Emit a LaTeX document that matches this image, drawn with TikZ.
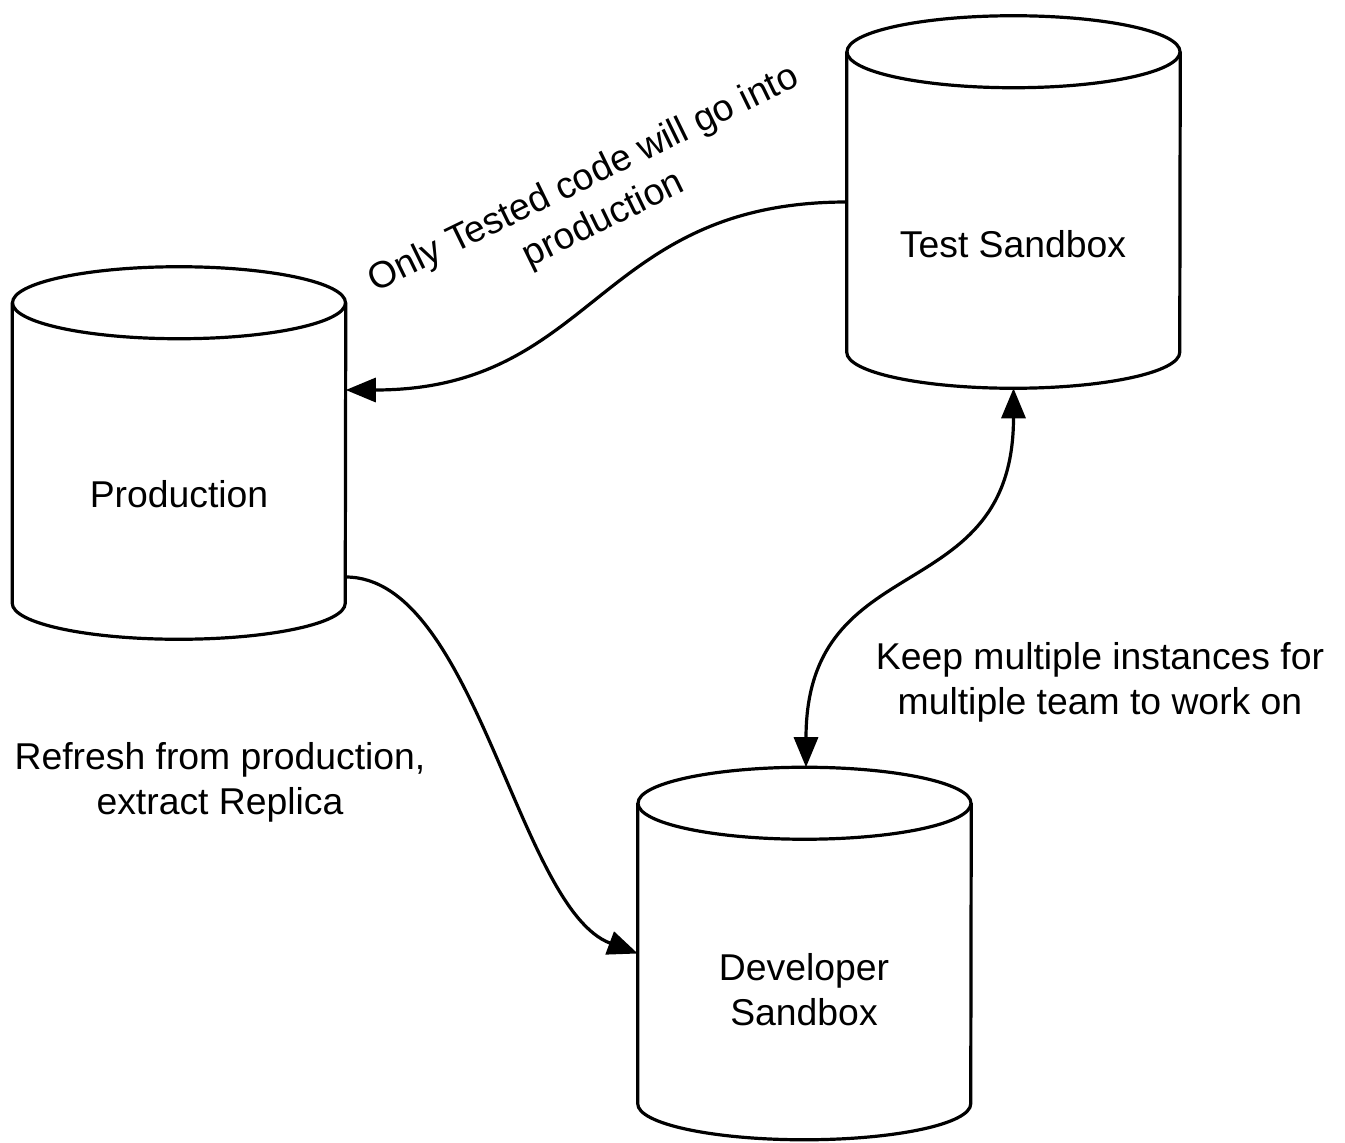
\documentclass[tikz,border=0pt]{standalone}
\usepackage{fontspec}
\setmainfont{Liberation Sans}
\usetikzlibrary{arrows.meta,calc}
\newcommand\drawcyl[1]{%
  \draw[cylline] (#1.north west) -- (#1.south west)
    arc[start angle=180,end angle=360,x radius=124.875pt,y radius=27pt]
    -- (#1.north east);
  \draw[cylline] (#1.north) ellipse[x radius=124.875pt,y radius=27pt];
}
\begin{document}
\begin{tikzpicture}[x=0.75pt,y=-0.75pt,
  body/.style={draw=none,inner sep=0pt,minimum width=249.75pt,minimum height=225pt},
  cylline/.style={line width=2.4pt,fill=white},
  txt/.style={font=\fontsize{28pt}{33.75pt}\selectfont,align=center,inner sep=0pt},
  conn/.style={line width=2.4pt,-{Triangle[length=22.5pt,width=18pt]}}]
\useasboundingbox (0,0) rectangle (1345,1142);
\node[body] (test) at (1013.5,202) {};
\node[body] (prod) at (179,453) {};
\node[body] (dev) at (804.5,953.5) {};
\drawcyl{test}
\drawcyl{prod}
\drawcyl{dev}
\node[txt] (testlbl) at (1013,244) {Test Sandbox};
\node[txt] (prodlbl) at (179,494) {Production};
\node[txt] (devlbl) at (804,990) {Developer\\Sandbox};
\coordinate (prodin) at ($(prod.east)+(0,-63)$);
\coordinate (prodout) at ($(prod.east)+(0,124)$);
\coordinate (testbot) at ($(test.south)+(0,36)$);
\coordinate (devtop) at ($(dev.north)+(1.5,-36)$);
\draw[conn] (test.west) .. controls +(-250,0) and +(250,0) .. (prodin);
\draw[conn] (prodout) .. controls +(130,0) and +(-120,-45) .. (dev.west);
\draw[conn,{Triangle[length=22.5pt,width=18pt]}-{Triangle[length=22.5pt,width=18pt]}] (testbot) .. controls +(0,223) and +(0,-223) .. (devtop);
\node[txt,rotate=26] (lbl1) at (594,200) {Only Tested code will go into\\production};
\node[txt] (lbl2) at (220,782) {Refresh from production,\\extract Replica};
\node[txt] (lbl3) at (1100,682) {Keep multiple instances for\\multiple team to work on};
\end{tikzpicture}
\end{document}
